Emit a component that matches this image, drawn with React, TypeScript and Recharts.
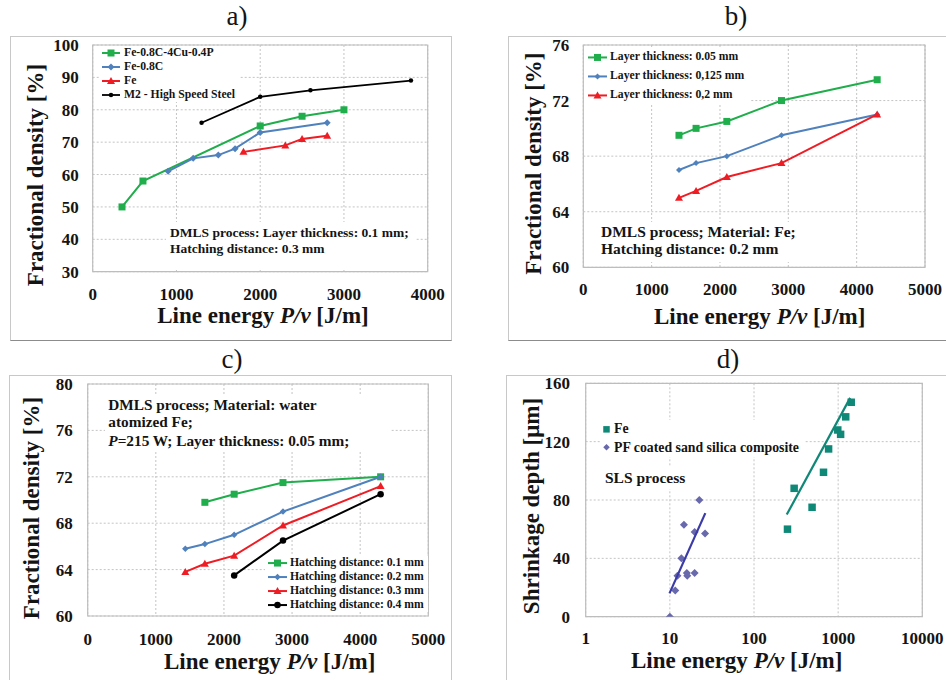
import React from 'react';
import { ScatterChart, Scatter, XAxis, YAxis, CartesianGrid, ReferenceArea, Legend } from 'recharts';

const FONT = '"Liberation Serif", "Times New Roman", Times, serif';
const FS: React.CSSProperties = { fontFamily: FONT };
const GREEN = '#1fae4b';
const BLUE = '#4f81bd';
const RED = '#f01c24';
const BLACK = '#000000';
const TEAL = '#108878';
const PURPLE = '#6868ac';
const PURPLE_LINE = '#3b3ba8';
const GRID = '#c4c4c4';
const FRAME = '#bdbdbd';
const INK = '#141414';

// ---------- a) ----------
const aXTicks = [0, 1000, 2000, 3000, 4000];
const aYTicks = [30, 40, 50, 60, 70, 80, 90, 100];
const aFeCuPX = [350, 600, 2000, 2500, 3000];
const aFeCuPY = [50, 58, 75, 78, 80];
const aFeCX = [900, 1200, 1500, 1700, 2000, 2800];
const aFeCY = [61, 65, 66, 68, 73, 76];
const aFeX = [1800, 2300, 2500, 2800];
const aFeY = [67, 69, 71, 72];
const aM2X = [1300, 2000, 2600, 3800];
const aM2Y = [76, 84, 86, 89];

// ---------- b) ----------
const bXTicks = [0, 1000, 2000, 3000, 4000, 5000];
const bYTicks = [60, 64, 68, 72, 76];
const bEnergy = [1400, 1650, 2100, 2900, 4300];
const bLayer005 = [69.5, 70, 70.5, 72, 73.5];
const bLayer0125 = [67, 67.5, 68, 69.5, 71];
const bLayer02 = [65, 65.5, 66.5, 67.5, 71];

// ---------- c) ----------
const cXTicks = [0, 1000, 2000, 3000, 4000, 5000];
const cYTicks = [60, 64, 68, 72, 76, 80];
const cHatch01X = [1720, 2150, 2867, 4300];
const cHatch01Y = [69.8, 70.5, 71.5, 72];
const cHatch02X = [1433, 1720, 2150, 2867, 4300];
const cHatch02Y = [65.8, 66.2, 67, 69, 72];
const cHatch03X = [1433, 1720, 2150, 2867, 4300];
const cHatch03Y = [63.8, 64.5, 65.2, 67.8, 71.2];
const cHatch04X = [2150, 2867, 4300];
const cHatch04Y = [63.5, 66.5, 70.5];

// ---------- d) ----------
const dXTicks = [1, 10, 100, 1000, 10000];
const dYTicks = [0, 40, 80, 120, 160];
const dFeX = [250, 300, 490, 670, 770, 990, 1070, 1230, 1430];
const dFeY = [60, 88, 75, 99, 115, 128, 125, 137, 147];
const dPFX = [10, 11.6, 12.3, 13.7, 14.7, 15.9, 16.1, 19.7, 19.7, 22.4, 26.2];
const dPFY = [0, 18, 28, 40, 63, 30, 28, 30, 58, 80, 57];
const dFeTrendX = [245, 1390];
const dFeTrendY = [70, 150];
const dPFTrendX = [9.9, 26.4];
const dPFTrendY = [16, 71];

const zip = (xs: number[], ys: number[]) => xs.map((x, i) => ({ x, y: ys[i] }));

const W = 946;
const H = 680;
const YW = 60;
const XH = 40;

type Mk = 'square' | 'diamond' | 'triangle' | 'circle' | 'none';

function Marker({ kind, cx, cy, size, color }: { kind: Mk; cx: number; cy: number; size: number; color: string }) {
  const h = size / 2;
  if (kind === 'square') return <rect x={cx - h} y={cy - h} width={size} height={size} fill={color} />;
  if (kind === 'diamond')
    return <polygon points={`${cx},${cy - h} ${cx + h},${cy} ${cx},${cy + h} ${cx - h},${cy}`} fill={color} />;
  if (kind === 'triangle')
    return <polygon points={`${cx},${cy - h} ${cx + h},${cy + h * 0.75} ${cx - h},${cy + h * 0.75}`} fill={color} />;
  if (kind === 'circle') return <circle cx={cx} cy={cy} r={h} fill={color} />;
  return <g />;
}

interface SeriesDef {
  name: string;
  data: { x: number; y: number }[];
  color: string;
  marker: Mk;
  size: number;
  line?: string;
  lineWidth?: number;
  legend?: boolean;
  legendSize?: number;
}

interface LegendCfg {
  left: number;
  top: number;
  width: number;
  rowH: number;
  fontSize: number;
  iconW: number;
  padL: number;
  gap: number;
  showLine: boolean;
}

const makeLegend = (series: SeriesDef[], cfg: LegendCfg) => () => (
  <div
    style={{
      background: '#fff',
      paddingLeft: cfg.padL,
      width: cfg.width,
      boxSizing: 'border-box',
      fontFamily: FONT,
      fontWeight: 'bold',
      fontSize: cfg.fontSize,
      color: INK,
      lineHeight: 1,
    }}
  >
    {series
      .filter((s) => s.legend !== false)
      .map((s) => (
        <div key={s.name} style={{ display: 'flex', alignItems: 'center', height: cfg.rowH, whiteSpace: 'nowrap' }}>
          <svg width={cfg.iconW} height={cfg.rowH} style={{ flex: 'none', display: 'block' }}>
            {cfg.showLine && (
              <line x1={0} x2={cfg.iconW} y1={cfg.rowH / 2} y2={cfg.rowH / 2} stroke={s.line} strokeWidth={s.lineWidth} />
            )}
            <Marker kind={s.marker} cx={cfg.iconW / 2} cy={cfg.rowH / 2} size={s.legendSize ?? s.size} color={s.color} />
          </svg>
          <span style={{ marginLeft: cfg.gap, fontFamily: FONT }}>{s.name}</span>
        </div>
      ))}
  </div>
);

interface PanelProps {
  plot: { l: number; r: number; t: number; b: number };
  xDomain: [number, number];
  xTicks: number[];
  xLog?: boolean;
  yDomain: [number, number];
  yTicks: number[];
  series: SeriesDef[];
  yLabel: string;
  yLabelPos: [number, number];
  xLabelPos: [number, number];
  yTickGap: number;
  xTickMargin: number;
  legend: LegendCfg;
}

const tickStyle = { fontSize: 17, fontWeight: 700, fill: INK, fontFamily: FONT, style: FS };

function Panel(p: PanelProps) {
  const { plot } = p;
  const yLab = () => {
    const x = p.yLabelPos[0] + 6;
    const y = p.yLabelPos[1];
    return (
      <text
        x={x}
        y={y}
        transform={`rotate(-90, ${x}, ${y})`}
        textAnchor="middle"
        fontFamily={FONT}
        style={FS}
        fontWeight="bold"
        fontSize={23}
        fill={INK}
      >
        {p.yLabel}
      </text>
    );
  };
  const xLab = () => (
    <text
      x={p.xLabelPos[0]}
      y={p.xLabelPos[1] + 6}
      textAnchor="middle"
      fontFamily={FONT}
      style={FS}
      fontWeight="bold"
      fontSize={23}
      fill={INK}
    >
      {'Line energy '}
      <tspan fontStyle="italic">P/v</tspan>
      {' [J/m]'}
    </text>
  );
  return (
    <div style={{ position: 'absolute', left: 0, top: 0, fontFamily: FONT }}>
      <ScatterChart
        width={W}
        height={H}
        style={FS}
        margin={{ top: plot.t, left: plot.l - YW, right: W - plot.r, bottom: H - plot.b - XH }}
      >
        <CartesianGrid stroke={GRID} strokeDasharray="2 2" />
        <XAxis
          type="number"
          dataKey="x"
          domain={p.xDomain}
          ticks={p.xTicks}
          scale={p.xLog ? 'log' : 'auto'}
          allowDataOverflow
          interval={0}
          height={XH}
          axisLine={false}
          tickLine={false}
          tickMargin={p.xTickMargin}
          tick={tickStyle}
          label={xLab}
        />
        <YAxis
          type="number"
          dataKey="y"
          domain={p.yDomain}
          ticks={p.yTicks}
          allowDataOverflow
          interval={0}
          width={YW}
          axisLine={false}
          tickLine={false}
          tickMargin={p.yTickGap - 6}
          tick={tickStyle}
          label={yLab}
        />
        <ReferenceArea
          x1={p.xDomain[0]}
          x2={p.xDomain[1]}
          y1={p.yDomain[0]}
          y2={p.yDomain[1]}
          fill="none"
          fillOpacity={0}
          stroke={FRAME}
          strokeWidth={1.2}
          ifOverflow="visible"
        />
        {p.series.map((s) => (
          <Scatter
            key={s.name}
            name={s.name}
            data={s.data}
            line={s.line ? { stroke: s.line, strokeWidth: s.lineWidth ?? 2 } : false}
            lineType="joint"
            shape={(pp: any) => <Marker kind={s.marker} cx={pp.cx} cy={pp.cy} size={s.size} color={s.color} />}
            isAnimationActive={false}
          />
        ))}
        <Legend
          content={makeLegend(p.series, p.legend)}
          layout="vertical"
          align="center"
          verticalAlign="middle"
          wrapperStyle={{ left: p.legend.left, top: p.legend.top, width: p.legend.width, height: 'auto' }}
        />
      </ScatterChart>
    </div>
  );
}

const seriesA: SeriesDef[] = [
  { name: 'Fe-0.8C-4Cu-0.4P', data: zip(aFeCuPX, aFeCuPY), color: GREEN, marker: 'square', size: 7, line: GREEN, lineWidth: 2 },
  { name: 'Fe-0.8C', data: zip(aFeCX, aFeCY), color: BLUE, marker: 'diamond', size: 7, line: BLUE, lineWidth: 2 },
  { name: 'Fe', data: zip(aFeX, aFeY), color: RED, marker: 'triangle', size: 8, line: RED, lineWidth: 2 },
  { name: 'M2 - High Speed Steel', data: zip(aM2X, aM2Y), color: BLACK, marker: 'circle', size: 4.5, line: BLACK, lineWidth: 1.8 },
];

const seriesB: SeriesDef[] = [
  { name: 'Layer thickness: 0.05 mm', data: zip(bEnergy, bLayer005), color: GREEN, marker: 'square', size: 7, line: GREEN, lineWidth: 2 },
  { name: 'Layer thickness: 0,125 mm', data: zip(bEnergy, bLayer0125), color: BLUE, marker: 'diamond', size: 6, line: BLUE, lineWidth: 2 },
  { name: 'Layer thickness: 0,2 mm', data: zip(bEnergy, bLayer02), color: RED, marker: 'triangle', size: 8, line: RED, lineWidth: 2 },
];

const seriesC: SeriesDef[] = [
  { name: 'Hatching distance: 0.1 mm', data: zip(cHatch01X, cHatch01Y), color: GREEN, marker: 'square', size: 7, line: GREEN, lineWidth: 2 },
  { name: 'Hatching distance: 0.2 mm', data: zip(cHatch02X, cHatch02Y), color: BLUE, marker: 'diamond', size: 6.5, line: BLUE, lineWidth: 2 },
  { name: 'Hatching distance: 0.3 mm', data: zip(cHatch03X, cHatch03Y), color: RED, marker: 'triangle', size: 8, line: RED, lineWidth: 2 },
  { name: 'Hatching distance: 0.4 mm', data: zip(cHatch04X, cHatch04Y), color: BLACK, marker: 'circle', size: 6.5, line: BLACK, lineWidth: 2 },
];

const seriesD: SeriesDef[] = [
  { name: 'Fe', data: zip(dFeX, dFeY), color: TEAL, marker: 'square', size: 7.5, legendSize: 6.5 },
  { name: 'PF coated sand silica composite', data: zip(dPFX, dPFY), color: PURPLE, marker: 'diamond', size: 8, legendSize: 6.5 },
  { name: 'Fe trend', data: zip(dFeTrendX, dFeTrendY), color: TEAL, marker: 'none', size: 0, line: TEAL, lineWidth: 2.2, legend: false },
  { name: 'PF trend', data: zip(dPFTrendX, dPFTrendY), color: PURPLE_LINE, marker: 'none', size: 0, line: PURPLE_LINE, lineWidth: 2.2, legend: false },
];

const frame = (left: number, top: number, width: number, height: number, bottom?: string): React.CSSProperties => ({
  position: 'absolute',
  left,
  top,
  width,
  height,
  boxSizing: 'border-box',
  border: '1px solid #c8c8c8',
  borderBottom: bottom ?? '1px solid #c8c8c8',
});

function Note({ x, y, lines, size, box }: { x: number; y: number[]; lines: React.ReactNode[]; size: number; box: [number, number, number, number] }) {
  return (
    <g>
      <rect x={box[0]} y={box[1]} width={box[2]} height={box[3]} fill="#fff" />
      {lines.map((l, i) => (
        <text key={i} x={x} y={y[i]} fontFamily={FONT} style={FS} fontWeight="bold" fontSize={size} fill={INK}>
          {l}
        </text>
      ))}
    </g>
  );
}

const Title = ({ x, y, t }: { x: number; y: number; t: string }) => (
  <text x={x} y={y} textAnchor="middle" fontFamily={FONT} style={FS} fontSize={27} fill={INK}>
    {t}
  </text>
);

export default function App() {
  return (
    <div style={{ position: 'absolute', left: 0, top: 0, width: W, height: H, background: '#fff', overflow: 'hidden', fontFamily: FONT }}>
      <div style={frame(10, 36, 442, 305, '1px solid #8c8c8c')} />
      <div style={frame(508, 36, 450, 305, '1px solid #8c8c8c')} />
      <div style={frame(9, 375, 443, 330)} />
      <div style={frame(506, 375, 450, 330)} />

      <Panel
        plot={{ l: 92.7, r: 427.7, t: 45, b: 271.7 }}
        xDomain={[0, 4000]}
        xTicks={aXTicks}
        yDomain={[30, 100]}
        yTicks={aYTicks}
        series={seriesA}
        yLabel="Fractional density [%]"
        yLabelPos={[37, 175]}
        xLabelPos={[263, 316.7]}
        yTickGap={14}
        xTickMargin={10}
        legend={{ left: 99, top: 46.3, width: 140, rowH: 14, fontSize: 11.7, iconW: 18, padL: 3, gap: 4, showLine: true }}
      />
      <Panel
        plot={{ l: 583.3, r: 925, t: 45, b: 267.3 }}
        xDomain={[0, 5000]}
        xTicks={bXTicks}
        yDomain={[60, 76]}
        yTicks={bYTicks}
        series={seriesB}
        yLabel="Fractional density [%]"
        yLabelPos={[535, 163.7]}
        xLabelPos={[759.7, 318.3]}
        yTickGap={14}
        xTickMargin={9.5}
        legend={{ left: 584, top: 47.9, width: 166, rowH: 18.9, fontSize: 11.7, iconW: 19, padL: 4, gap: 3, showLine: true }}
      />
      <Panel
        plot={{ l: 87.7, r: 428.3, t: 384, b: 616 }}
        xDomain={[0, 5000]}
        xTicks={cXTicks}
        yDomain={[60, 80]}
        yTicks={cYTicks}
        series={seriesC}
        yLabel="Fractional density [%]"
        yLabelPos={[33.3, 508]}
        xLabelPos={[269.7, 663]}
        yTickGap={15}
        xTickMargin={10.5}
        legend={{ left: 265, top: 555.7, width: 163, rowH: 14.1, fontSize: 11.7, iconW: 19, padL: 3, gap: 3, showLine: true }}
      />
      <Panel
        plot={{ l: 585.7, r: 922.3, t: 383.3, b: 616.7 }}
        xDomain={[1, 10000]}
        xTicks={dXTicks}
        xLog
        yDomain={[0, 160]}
        yTicks={dYTicks}
        series={seriesD}
        yLabel="Shrinkage depth [μm]"
        yLabelPos={[533, 506]}
        xLabelPos={[736.7, 661.7]}
        yTickGap={15.7}
        xTickMargin={9.5}
        legend={{ left: 600, top: 419.6, width: 205, rowH: 18.7, fontSize: 13.8, iconW: 13, padL: 0, gap: 1, showLine: false }}
      />

      <svg width={W} height={H} style={{ position: 'absolute', left: 0, top: 0, pointerEvents: 'none' }}>
        <Title x={237} y={24.5} t="a)" />
        <Title x={736} y={24.5} t="b)" />
        <Title x={232} y={367.5} t="c)" />
        <Title x={728} y={367.5} t="d)" />

        <Note
          x={170}
          y={[236.7, 252.7]}
          size={13.5}
          box={[166, 222, 250, 48]}
          lines={['DMLS process: Layer thickness: 0.1 mm;', 'Hatching distance: 0.3 mm']}
        />
        <Note
          x={601}
          y={[236.7, 254]}
          size={15.5}
          box={[597, 222, 203, 40]}
          lines={['DMLS process; Material: Fe;', 'Hatching distance: 0.2 mm']}
        />
        <Note
          x={108.3}
          y={[410, 427.3, 446]}
          size={15.3}
          box={[105, 395, 286, 57]}
          lines={[
            'DMLS process; Material: water',
            'atomized Fe;',
            <>
              <tspan fontStyle="italic">P</tspan>
              {'=215 W; Layer thickness: 0.05 mm;'}
            </>,
          ]}
        />
        <Note x={605} y={[483]} size={15.5} box={[602, 467, 88, 22]} lines={['SLS process']} />
      </svg>
    </div>
  );
}
